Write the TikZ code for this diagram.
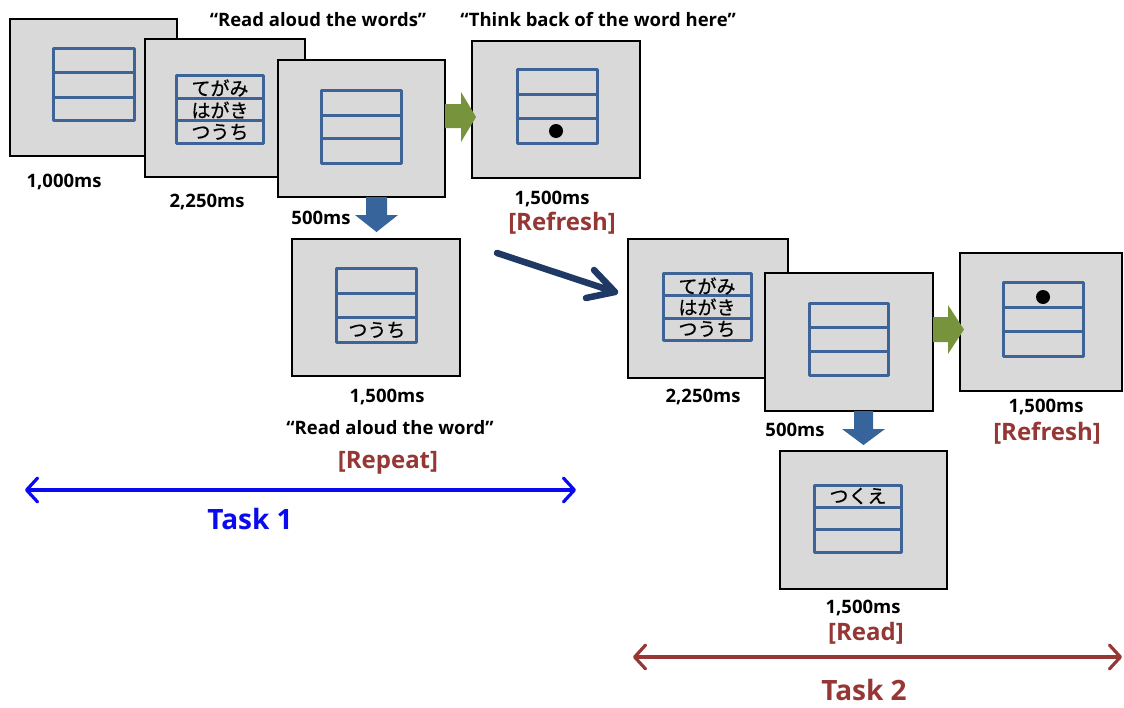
\documentclass[tikz,border=0pt]{standalone}
\usepackage{fontspec}
\setmainfont{Open Sans}
\newfontfamily\jpfont[FakeBold=0.6]{Noto Sans CJK JP}
\usetikzlibrary{arrows.meta}
\definecolor{scrfill}{HTML}{D9D9D9}
\definecolor{gridblue}{HTML}{3E6497}
\definecolor{redtxt}{HTML}{953735}
\definecolor{greenarr}{HTML}{77933C}
\definecolor{bluearr}{HTML}{37649A}
\definecolor{navyarr}{HTML}{1F3864}
\definecolor{taskblue}{HTML}{0A0AF0}
\newcommand\drawgrid[6]{%
  \draw[gridline] (#1,#2) rectangle (#3,#4) (#1,#5) -- (#3,#5) (#1,#6) -- (#3,#6);}
\begin{document}
\begin{tikzpicture}[x=1pt,y=-1pt,
  screen/.style={draw=black, line width=1.3pt, fill=scrfill, inner sep=0pt},
  gridline/.style={draw=gridblue, line width=3pt, line join=round},
  lbl/.style={font=\fontsize{18.5}{22}\selectfont\bfseries, inner sep=0pt},
  redlbl/.style={font=\fontsize{24}{28}\selectfont\bfseries, text=redtxt, inner sep=0pt},
  jp/.style={font=\jpfont\fontsize{19}{20}\selectfont, inner sep=0pt},
  tasklbl/.style={font=\fontsize{28}{32}\selectfont\bfseries, inner sep=0pt},
  blockgreen/.style={fill=greenarr, draw=none},
  blockblue/.style={fill=bluearr, draw=none},
  taskarrow/.style={line width=3.2pt, {Straight Barb[length=11pt,width=24pt,round]}-{Straight Barb[length=11pt,width=24pt,round]}}
]
\useasboundingbox (0,0) rectangle (1124,707);

% ---------- Task 1 ----------
\node[screen, minimum width=167, minimum height=137] (s1) at (93.5,87.5) {};
\drawgrid{53}{48}{134}{120}{72}{97}

\node[screen, minimum width=160, minimum height=138] (s2) at (225,108) {};
\drawgrid{176}{75}{263}{143}{98}{120}
\node[jp] (w2a) at (220,88) {てがみ};
\node[jp] (w2b) at (220,110) {はがき};
\node[jp] (w2c) at (220,132) {つうち};

\node[screen, minimum width=167, minimum height=137] (s3) at (361.5,128.5) {};
\drawgrid{321}{90}{401}{163}{115}{138}

\node[screen, minimum width=168, minimum height=137] (s4) at (556,109.5) {};
\drawgrid{517}{69}{597}{143}{94}{118}
\fill (556,131) circle (7);

% green arrow s3 -> s4
\fill[blockgreen] (445,104) -- (461,104) -- (461,92) -- (476,117) -- (461,142) -- (461,128) -- (445,128) -- cycle;
% blue down arrow s3 -> s5
\fill[blockblue] (366,197) -- (387,197) -- (387,215) -- (398,215) -- (376.5,232) -- (355,215) -- (366,215) -- cycle;

\node[screen, minimum width=168, minimum height=137] (s5) at (376,307.5) {};
\drawgrid{336}{268}{416}{342}{293}{317}
\node[jp] (w5) at (377,330) {つうち};

\node[lbl] (q1) at (318,20) {“Read aloud the words”};
\node[lbl] (q2) at (598,20) {“Think back of the word here”};
\node[lbl] (t1) at (64,182) {1,000ms};
\node[lbl] (t2) at (207,202) {2,250ms};
\node[lbl] (t3) at (321,218) {500ms};
\node[lbl] (t4) at (552,199) {1,500ms};
\node[redlbl] (r1) at (562,223) {[Refresh]};
\node[lbl] (t5) at (387,397) {1,500ms};
\node[lbl] (q3) at (390,428) {“Read aloud the word”};
\node[redlbl] (r2) at (388,463) {[Repeat]};

\coordinate (a1) at (25,490);
\coordinate (a2) at (576,490);
\draw[taskarrow, taskblue] (a1) -- (a2);
\node[tasklbl, text=taskblue] (task1) at (250,519) {Task 1};

% navy transition arrow
\coordinate (n0) at (497,253);
\coordinate (n1) at (615,292);
\coordinate (n2) at (594,270);
\coordinate (n3) at (586,298);
\draw[navyarr, line width=6.5pt, line cap=round, line join=round] (n0) -- (n1) (n2) -- (n1) -- (n3);

% ---------- Task 2 ----------
\node[screen, minimum width=160, minimum height=139] (s6) at (708,308.5) {};
\drawgrid{663}{273}{751}{340}{295}{318}
\node[jp] (w6a) at (707,286) {てがみ};
\node[jp] (w6b) at (707,307) {はがき};
\node[jp] (w6c) at (707,329) {つうち};

\node[screen, minimum width=168, minimum height=138] (s7) at (849,342) {};
\drawgrid{809}{303}{888}{375}{327}{351}

\node[screen, minimum width=162, minimum height=138] (s8) at (1041,322) {};
\drawgrid{1003}{282}{1083}{356}{307}{331}
\fill (1043,297) circle (7);

\fill[blockgreen] (933,317) -- (948,317) -- (948,305) -- (964,329.5) -- (948,354) -- (948,342) -- (933,342) -- cycle;
\fill[blockblue] (854,411) -- (873,411) -- (873,429) -- (885,429) -- (863.5,445) -- (842,429) -- (854,429) -- cycle;

\node[screen, minimum width=167, minimum height=138] (s9) at (863.5,520) {};
\drawgrid{814}{485}{901}{552}{507}{529}
\node[jp] (w9) at (858,496) {つくえ};

\node[lbl] (t6) at (703,397) {2,250ms};
\node[lbl] (t7) at (795,430) {500ms};
\node[lbl] (t8) at (1046,407) {1,500ms};
\node[redlbl] (r3) at (1047,433) {[Refresh]};
\node[lbl] (t9) at (863,608) {1,500ms};
\node[redlbl] (r4) at (866,633) {[Read]};

\coordinate (b1) at (633,657);
\coordinate (b2) at (1122,657);
\draw[taskarrow, redtxt] (b1) -- (b2);
\node[tasklbl, text=redtxt] (task2) at (864,690) {Task 2};
\end{tikzpicture}
\end{document}
